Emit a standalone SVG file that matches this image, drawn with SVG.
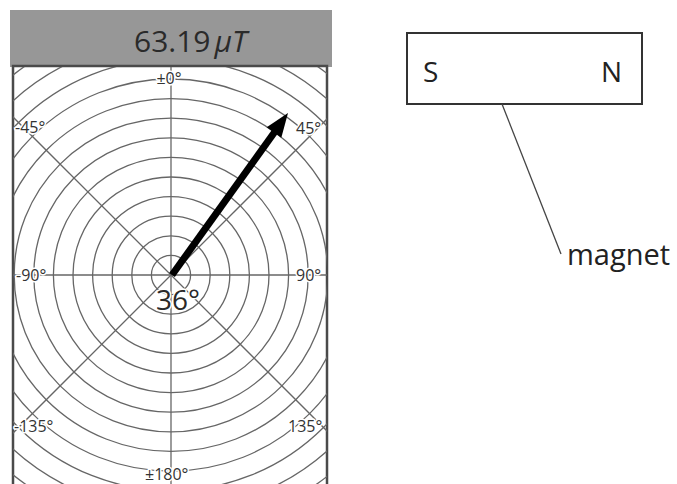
<svg xmlns="http://www.w3.org/2000/svg" width="677" height="484" viewBox="0 0 677 484">
<defs>
<style>
.grid{fill:none;stroke:#666;stroke-width:1.3}
.lbl{font-family:"Open Sans","Liberation Sans",sans-serif;font-size:16px;fill:#333;stroke:#fff;stroke-width:3;paint-order:stroke;stroke-linejoin:round}
.big{font-family:"Open Sans","Liberation Sans",sans-serif;fill:#2a2a2a}
.mag{font-family:"Open Sans","Liberation Sans",sans-serif;fill:#222}
</style>
<clipPath id="fr"><rect x="13" y="67" width="314" height="420"/></clipPath>
</defs>
<g id="meter">
<rect x="10" y="10" width="322" height="57" fill="#979797"/>
<text class="big" x="134" y="52" font-size="30">63.19<tspan font-style="italic" dx="4">μT</tspan></text>
<rect x="13" y="66" width="314" height="422" fill="#fff" stroke="#4a4a4a" stroke-width="2.5"/>
<g clip-path="url(#fr)">
<g class="grid">
<circle cx="171" cy="275" r="19.6"/>
<circle cx="171" cy="275" r="39.2"/>
<circle cx="171" cy="275" r="58.8"/>
<circle cx="171" cy="275" r="78.4"/>
<circle cx="171" cy="275" r="98"/>
<circle cx="171" cy="275" r="117.6"/>
<circle cx="171" cy="275" r="137.2"/>
<circle cx="171" cy="275" r="156.8"/>
<circle cx="171" cy="275" r="176.4"/>
<circle cx="171" cy="275" r="196"/>
<circle cx="171" cy="275" r="215.6"/>
<circle cx="171" cy="275" r="235.2"/>
<circle cx="171" cy="275" r="254.8"/>
<line x1="171" y1="60" x2="171" y2="490"/>
<line x1="5" y1="275" x2="335" y2="275"/>
<line x1="-40" y1="64" x2="390" y2="494"/>
<line x1="-40" y1="486" x2="390" y2="56"/>
</g>
</g>
<text class="lbl" x="169" y="84" text-anchor="middle" font-size="15">±0°</text>
<text class="lbl" x="15" y="133">-45°</text>
<text class="lbl" x="296" y="134">45°</text>
<text class="lbl" x="16" y="281">-90°</text>
<text class="lbl" x="296" y="281">90°</text>
<text class="lbl" x="14" y="432">-135°</text>
<text class="lbl" x="288" y="432">135°</text>
<text class="lbl" x="145" y="480">±180°</text>
<text class="big" x="156" y="310" font-size="28" stroke="#fff" stroke-width="3" paint-order="stroke">36°</text>
<g id="needle">
<line x1="172" y1="275" x2="275" y2="131.5" stroke="#000" stroke-width="7"/>
<polygon points="288,113 281.3,137.8 266.7,127.3" fill="#000"/>
</g>
</g>
<g id="magnet">
<rect x="407" y="33" width="235" height="71" fill="#fff" stroke="#333" stroke-width="2"/>
<text class="mag" x="423" y="82" font-size="28">S</text>
<text class="mag" x="601" y="82" font-size="28">N</text>
</g>
<g id="connectors">
<line x1="502" y1="104" x2="561" y2="254" stroke="#444" stroke-width="1.3"/>
</g>
<g id="magnet-label">
<text class="mag" x="567" y="265" font-size="29">magnet</text>
</g>
</svg>
